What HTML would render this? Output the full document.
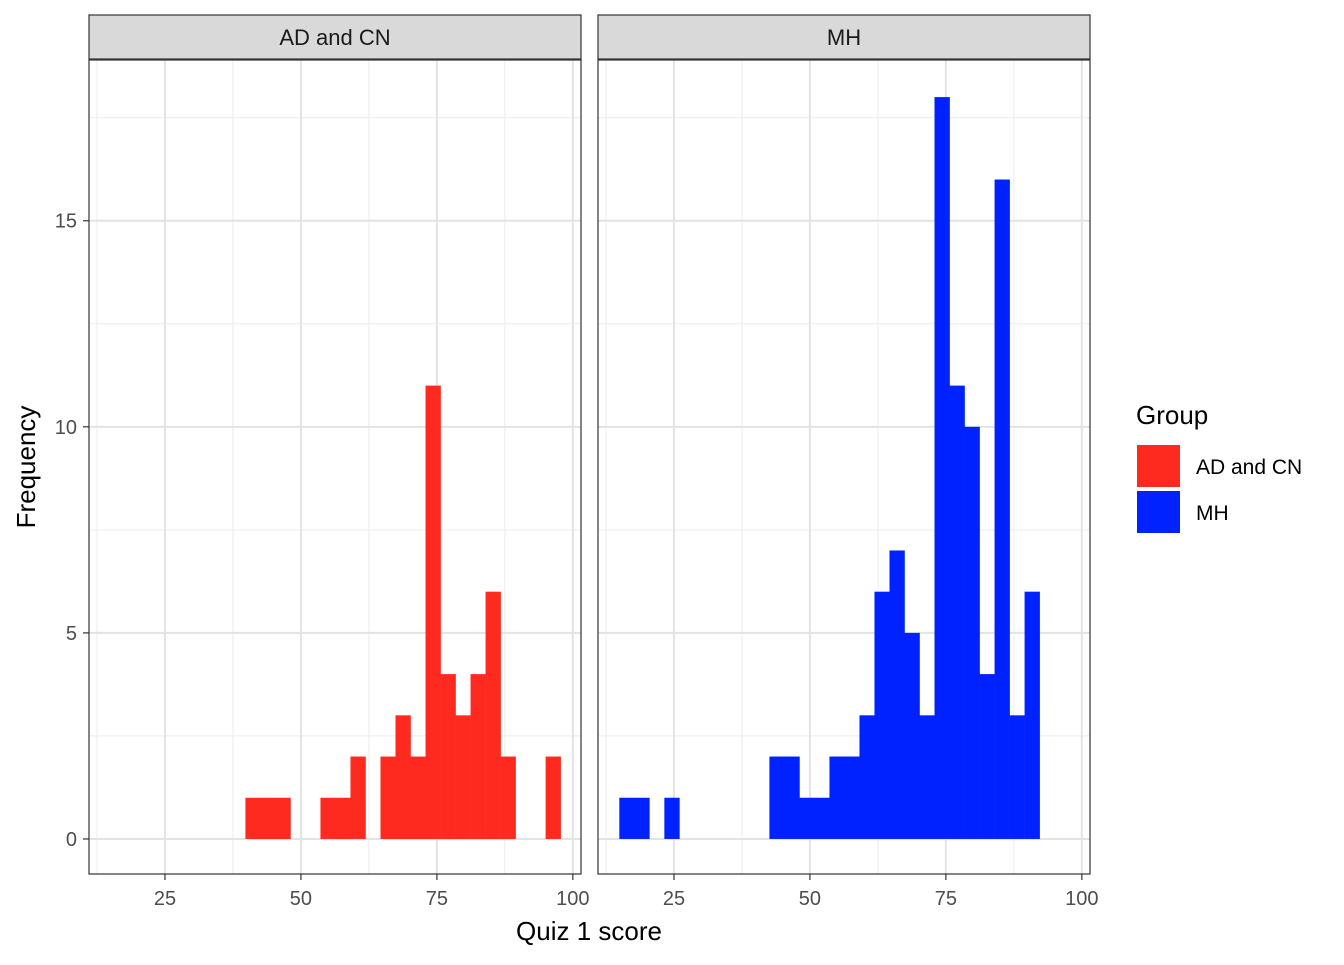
<!DOCTYPE html>
<html><head><meta charset="utf-8"><style>
body{margin:0;background:#fff}
text{font-family:"Liberation Sans",Arial,sans-serif}
</style></head><body>
<svg id="c" width="1344" height="960" xmlns="http://www.w3.org/2000/svg"></svg>
<script>
const binStart = 14.95;
const binWidth = 2.76;
const panelNames = ["AD and CN", "MH"];
const redCounts = [0,0,0,0,0,0,0,0,0,1,1,1,0,0,1,1,2,0,2,3,2,11,4,3,4,6,2,0,0,2];
const blueCounts = [1,1,0,1,0,0,0,0,0,0,2,2,1,1,2,2,3,6,7,5,3,18,11,10,4,16,3,6,0,0];
const xTicks = [25,50,75,100];
const yTicks = [0,5,10,15];
const colors = ["#FF2A1F","#0022FF"];

const svg = document.getElementById('c');
const NS = "http://www.w3.org/2000/svg";
function mk(tag, attrs, parent){const e=document.createElementNS(NS,tag);for(const k in attrs)e.setAttribute(k,attrs[k]);(parent||svg).appendChild(e);return e;}
const panels=[{x0:89,x1:581},{x0:598,x1:1090}];
const pTop=60,pBot=874;
const xMin=11.03,xMax=101.5,yMin=-0.85,yMax=18.9;
function yS(v){return pBot-(v-yMin)/(yMax-yMin)*(pBot-pTop);}
const allCounts=[redCounts,blueCounts];
panels.forEach((p,pi)=>{
  const xS=v=>p.x0+(v-xMin)/(xMax-xMin)*(p.x1-p.x0);
  const g=mk('g',{});
  
  
  for(let v=12.5;v<=100;v+=25){mk('line',{x1:xS(v),x2:xS(v),y1:pTop,y2:pBot,stroke:'#ececec','stroke-width':1},g);}
  for(let v=2.5;v<=18;v+=5){mk('line',{x1:p.x0,x2:p.x1,y1:yS(v),y2:yS(v),stroke:'#ececec','stroke-width':1},g);}
  xTicks.forEach(v=>mk('line',{x1:xS(v),x2:xS(v),y1:pTop,y2:pBot,stroke:'#e3e3e3','stroke-width':2},g));
  yTicks.forEach(v=>mk('line',{x1:p.x0,x2:p.x1,y1:yS(v),y2:yS(v),stroke:'#e3e3e3','stroke-width':2},g));
  allCounts[pi].forEach((c,k)=>{
    if(!c)return;
    const a=binStart+k*binWidth;
    const r=mk('rect',{x:xS(a),y:yS(c),width:xS(a+binWidth)-xS(a)+0.3,height:yS(0)-yS(c),fill:colors[pi]},g);
    
    
  });
  mk('rect',{x:p.x0,y:pTop,width:p.x1-p.x0,height:pBot-pTop,fill:'none',stroke:'#333','stroke-width':1.2},g);
  const s=mk('rect',{x:p.x0,y:15,width:p.x1-p.x0,height:44,fill:'#d9d9d9',stroke:'#333','stroke-width':1.2},g);
  
  
  const st=mk('text',{x:(p.x0+p.x1)/2,y:45,'text-anchor':'middle','font-size':22,fill:'#1a1a1a'},g);st.textContent=panelNames[pi];
  xTicks.forEach(v=>{
    mk('line',{x1:xS(v),x2:xS(v),y1:pBot,y2:pBot+6,stroke:'#333','stroke-width':1.2},g);
    const t=mk('text',{x:xS(v),y:905,'text-anchor':'middle','font-size':20,fill:'#4d4d4d'},g);t.textContent=v;
  });
});
yTicks.forEach(v=>{
  mk('line',{x1:83,x2:89,y1:yS(v),y2:yS(v),stroke:'#333','stroke-width':1.2});
  const t=mk('text',{x:77,y:yS(v)+7,'text-anchor':'end','font-size':20,fill:'#4d4d4d'});t.textContent=v;
});
const xt=mk('text',{x:589,y:940,'text-anchor':'middle','font-size':26,fill:'#000'});xt.textContent='Quiz 1 score';

const yt=mk('text',{x:35,y:467,'text-anchor':'middle','font-size':26,fill:'#000',transform:'rotate(-90 35 467)'});yt.textContent='Frequency';

const lt=mk('text',{x:1136,y:424,'font-size':26,fill:'#000'});lt.textContent='Group';

panelNames.forEach((n,i)=>{
  const r=mk('rect',{x:1137,y:445+i*46,width:43,height:42,fill:colors[i]});
  
  const t=mk('text',{x:1196,y:474+i*46,'font-size':21,fill:'#000'});t.textContent=n;
  
});
</script>
</body></html>
